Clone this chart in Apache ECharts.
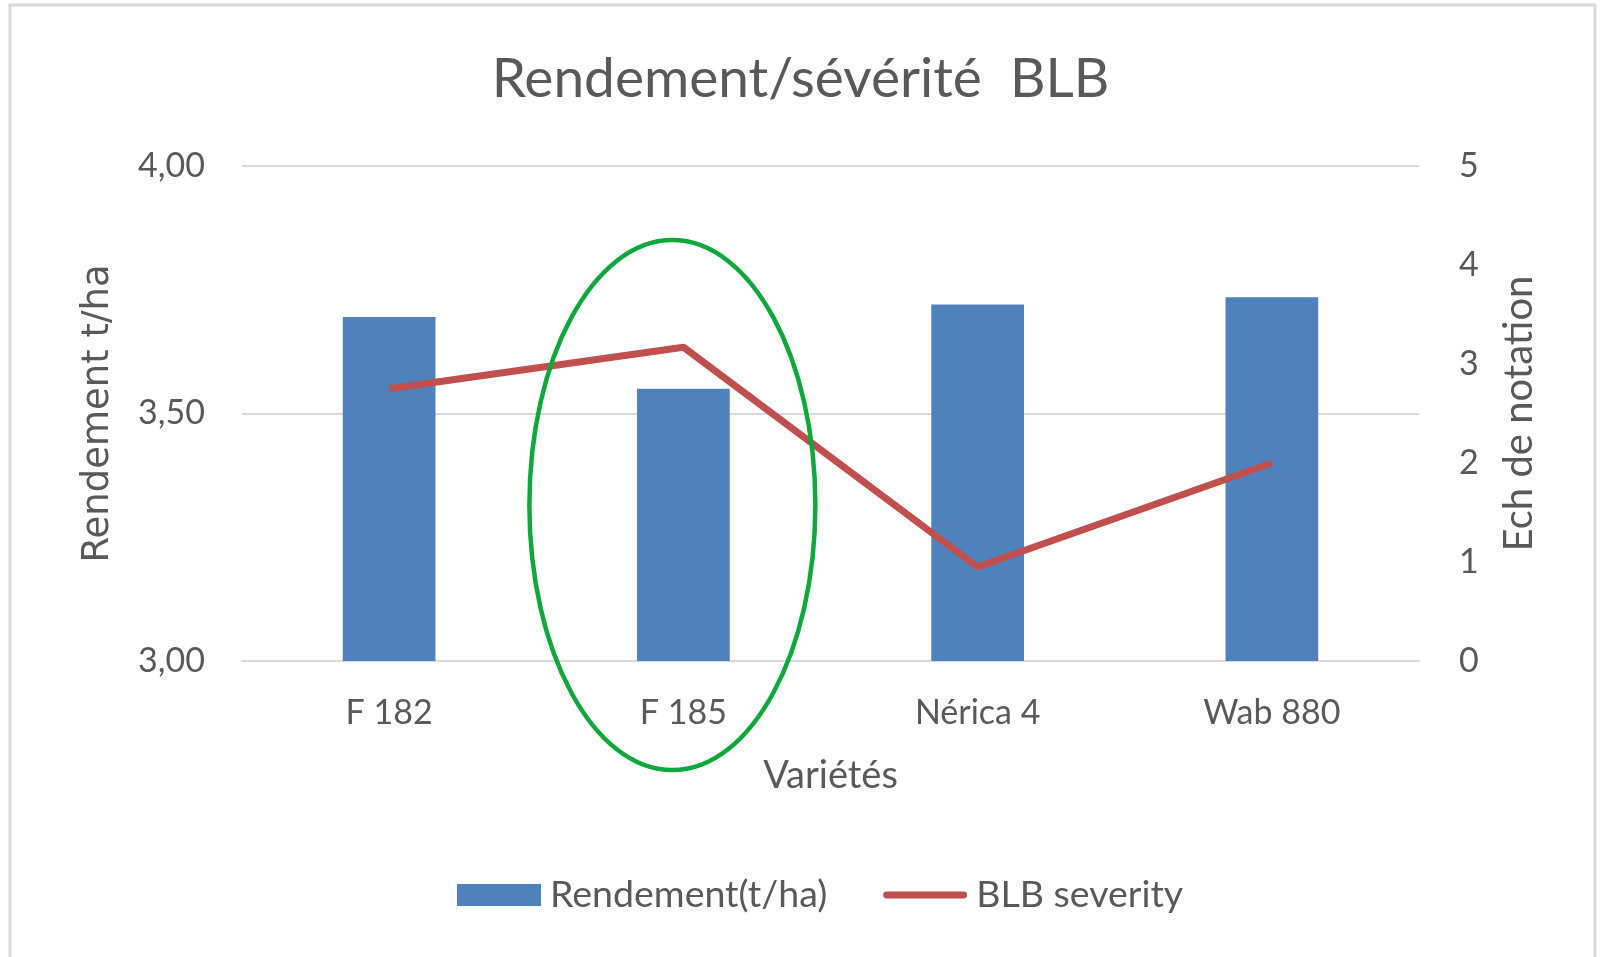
<!DOCTYPE html>
<html>
<head>
<meta charset="utf-8">
<title>Rendement/sévérité BLB</title>
<script src="https://cdn.jsdelivr.net/npm/echarts@6/dist/echarts.min.js"></script>
<style>
  html, body { margin: 0; padding: 0; background: #fff; }
  #chart { width: 1601px; height: 957px; }
</style>
</head>
<body>
<div id="chart"></div>
<script>
// données
const varietes = ['F 182', 'F 185', 'Nérica 4', 'Wab 880']
const rendement = [3.695, 3.55, 3.72, 3.735] // t/ha
const severite = [2.75, 3.17, 0.95, 2.0]     // échelle de notation
const ticksGauche = [3.0, 3.5, 4.0]
const ticksDroite = [0, 1, 2, 3, 4, 5]

const texte = '#595959'
const police = 'Lato, "Open Sans", sans-serif'

const myChart = echarts.init(document.getElementById('chart'))

const option = {
  backgroundColor: '#fff',
  animation: false,
  title: {
    text: 'Rendement/sévérité  BLB',
    left: 'center',
    top: 47,
    textStyle: { fontFamily: police, fontSize: 55, fontWeight: 'normal', color: texte }
  },
  legend: {
    bottom: 38,
    left: 452,
    itemWidth: 84,
    itemHeight: 22,
    itemGap: 56,
    textStyle: { fontFamily: police, fontSize: 37.5, color: texte, padding: [0, 0, 0, 4] },
    data: [
      { name: 'Rendement(t/ha)', icon: 'rect' },
      { name: 'BLB severity', icon: 'path://M3,0 L83,0 A3.5,3.5 0 0 1 83,7 L3,7 A3.5,3.5 0 0 1 3,0 Z' }
    ]
  },
  grid: { left: 242, right: 182, top: 166, bottom: 296 },
  xAxis: {
    type: 'category',
    data: varietes,
    name: 'Variétés',
    nameLocation: 'middle',
    nameGap: 96,
    nameTextStyle: { fontFamily: police, fontSize: 38, color: texte },
    axisLine: { show: true, lineStyle: { color: '#d9d9d9', width: 2 } },
    axisTick: { show: false },
    axisLabel: { fontFamily: police, fontSize: 34, color: texte, margin: 35 }
  },
  yAxis: [
    {
      type: 'value',
      min: ticksGauche[0],
      max: ticksGauche[ticksGauche.length - 1],
      interval: 0.5,
      name: 'Rendement t/ha',
      nameLocation: 'middle',
      nameRotate: 90,
      nameGap: 125,
      nameTextStyle: { fontFamily: 'DejaVu Sans, sans-serif', fontSize: 37, color: texte },
      axisLine: { show: false },
      axisTick: { show: false },
      axisLabel: {
        fontFamily: police, fontSize: 34, color: texte, margin: 37,
        formatter: v => v.toFixed(2).replace('.', ',')
      },
      splitLine: { lineStyle: { color: '#d9d9d9', width: 2 } }
    },
    {
      type: 'value',
      min: ticksDroite[0],
      max: ticksDroite[ticksDroite.length - 1],
      interval: 1,
      name: 'Ech de notation',
      nameLocation: 'middle',
      nameRotate: 90,
      nameGap: 80,
      nameTextStyle: { fontFamily: police, fontSize: 40, color: texte },
      axisLine: { show: false },
      axisTick: { show: false },
      axisLabel: { fontFamily: police, fontSize: 34, color: texte, margin: 40 },
      splitLine: { show: false }
    }
  ],
  series: [
    {
      name: 'Rendement(t/ha)',
      type: 'bar',
      yAxisIndex: 0,
      barWidth: '31.5%',
      itemStyle: { color: '#4f81bd' },
      data: rendement
    },
    {
      name: 'BLB severity',
      type: 'line',
      yAxisIndex: 1,
      symbol: 'none',
      lineStyle: { color: '#c0504d', width: 7 },
      itemStyle: { color: '#c0504d' },
      data: severite
    }
  ]
}

myChart.setOption(option)

// cadre gris + ellipse verte autour de F 185
const cx = myChart.convertToPixel({ xAxisIndex: 0 }, 'F 185') - 11
const cy = myChart.convertToPixel({ yAxisIndex: 0 }, 3.315)
myChart.setOption({
  graphic: [
    {
      type: 'rect',
      shape: { x: 10, y: 5, width: 1585, height: 960 },
      style: { fill: 'none', stroke: '#d9d9d9', lineWidth: 3 },
      silent: true
    },
    {
      type: 'ellipse',
      shape: { cx: cx, cy: cy, rx: 143, ry: 265 },
      style: { fill: 'none', stroke: '#0fa83c', lineWidth: 4.5 },
      z: 100,
      silent: true
    }
  ]
})
</script>
</body>
</html>
